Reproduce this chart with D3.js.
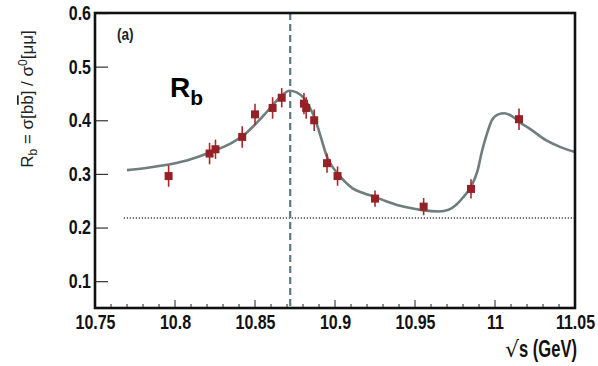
<!DOCTYPE html>
<html>
<head>
<meta charset="utf-8">
<script src="https://cdn.jsdelivr.net/npm/d3@7"></script>
<style>
  body { margin: 0; background: #fff; }
  svg { display: block; }
  .tick text { font-family: "Liberation Sans", Arial, sans-serif; font-weight: bold; }
</style>
</head>
<body>
<svg width="598" height="366"></svg>
<script>
// measured points (sqrt s in GeV, R_b) and their errors
const energies = [10.796, 10.8216, 10.8253, 10.842, 10.850, 10.861, 10.8667, 10.8806, 10.882, 10.887, 10.895, 10.9016, 10.925, 10.9554, 10.985, 11.015];
const rbValues = [0.296, 0.338, 0.346, 0.369, 0.411, 0.423, 0.442, 0.431, 0.423, 0.400, 0.320, 0.296, 0.254, 0.239, 0.272, 0.402];
const rbErrors = [0.02, 0.02, 0.018, 0.02, 0.02, 0.02, 0.018, 0.02, 0.02, 0.02, 0.018, 0.018, 0.015, 0.016, 0.018, 0.02];

// fit curve
const curveX = [10.770, 10.782, 10.795, 10.806, 10.8155, 10.826, 10.836, 10.844, 10.850, 10.856, 10.861, 10.866, 10.8716, 10.876, 10.8806, 10.884, 10.887, 10.891, 10.895, 10.898, 10.9016, 10.906, 10.911, 10.918, 10.925, 10.932, 10.940, 10.948, 10.9554, 10.965, 10.971, 10.9756, 10.980, 10.985, 10.989, 10.992, 10.995, 10.998, 11.002, 11.0058, 11.011, 11.016, 11.0214, 11.0318, 11.041, 11.05];
const curveY = [0.307, 0.311, 0.317, 0.324, 0.333, 0.345, 0.359, 0.375, 0.392, 0.411, 0.428, 0.444, 0.455, 0.452, 0.441, 0.425, 0.407, 0.370, 0.332, 0.315, 0.301, 0.286, 0.273, 0.264, 0.257, 0.249, 0.241, 0.236, 0.232, 0.230, 0.233, 0.242, 0.256, 0.276, 0.305, 0.344, 0.375, 0.400, 0.411, 0.413, 0.407, 0.395, 0.385, 0.363, 0.350, 0.341];

const peakMass = 10.872;      // vertical dashed line
const baseline = 0.218;       // dotted horizontal line
const baselineStart = 10.768;

const xTicks = [10.75, 10.8, 10.85, 10.9, 10.95, 11, 11.05];
const yTicks = [0.1, 0.2, 0.3, 0.4, 0.5, 0.6];

const margin = {top: 13, right: 23, bottom: 58, left: 95};
const width = 598 - margin.left - margin.right;
const height = 366 - margin.top - margin.bottom;

const svg = d3.select("svg");
const g = svg.append("g").attr("transform", `translate(${margin.left},${margin.top})`);

const x = d3.scaleLinear().domain([10.75, 11.05]).range([0, width]);
const y = d3.scaleLinear().domain([0.05, 0.6]).range([height, 0]);

// squeeze text to look like a narrow face
function narrow(sel, k) {
  sel.each(function () {
    const len = this.getComputedTextLength();
    d3.select(this).attr("textLength", len * k).attr("lengthAdjust", "spacingAndGlyphs");
  });
}

// minor x ticks (every 0.01)
const minorX = d3.range(0, 31).map(i => 10.75 + i * 0.01);
g.append("g").selectAll("line").data(minorX).enter().append("line")
  .attr("x1", d => x(d)).attr("x2", d => x(d))
  .attr("y1", height).attr("y2", (d, i) => height - (i % 5 === 0 ? 8 : 4))
  .attr("stroke", "#222").attr("stroke-width", 1);

// x axis labels
const xAxis = d3.axisBottom(x).tickValues(xTicks).tickSize(0).tickPadding(7)
  .tickFormat(d => d3.format("")(+d.toFixed(2)));
g.append("g").attr("transform", `translate(0,${height})`).call(xAxis)
  .call(s => s.select(".domain").remove())
  .selectAll("text").attr("font-size", 20).attr("fill", "#111").call(narrow, 0.8);

// y axis
const yAxis = d3.axisLeft(y).tickValues(yTicks).tickSize(-13).tickPadding(4)
  .tickFormat(d3.format(".1f"));
g.append("g").call(yAxis)
  .call(s => s.select(".domain").remove())
  .call(s => s.selectAll(".tick line").attr("stroke", "#333").attr("stroke-width", 1.2))
  .selectAll("text").attr("font-size", 20).attr("fill", "#111").call(narrow, 0.8);

// dotted baseline
g.append("line")
  .attr("x1", x(baselineStart)).attr("x2", width)
  .attr("y1", y(baseline)).attr("y2", y(baseline))
  .attr("stroke", "#555").attr("stroke-width", 2).attr("stroke-dasharray", "1,2");

// vertical dashed line
g.append("line")
  .attr("x1", x(peakMass)).attr("x2", x(peakMass))
  .attr("y1", 0).attr("y2", height)
  .attr("stroke", "#5c7a82").attr("stroke-width", 2.2).attr("stroke-dasharray", "7,4");

// fit curve
const curve = d3.line().x(d => x(d[0])).y(d => y(d[1])).curve(d3.curveMonotoneX);
g.append("path")
  .datum(curveX.map((v, i) => [v, curveY[i]]))
  .attr("d", curve)
  .attr("fill", "none").attr("stroke", "#6f7d7d").attr("stroke-width", 2.6);

// data points with error bars
const pts = energies.map((e, i) => ({e, r: rbValues[i], err: rbErrors[i]}));
const pg = g.append("g").selectAll("g").data(pts).enter().append("g");
pg.append("line")
  .attr("x1", d => x(d.e)).attr("x2", d => x(d.e))
  .attr("y1", d => y(d.r + d.err)).attr("y2", d => y(d.r - d.err))
  .attr("stroke", "#a8282c").attr("stroke-width", 1.6);
pg.append("rect")
  .attr("x", d => x(d.e) - 4).attr("y", d => y(d.r) - 4)
  .attr("width", 8).attr("height", 8)
  .attr("fill", "#952026");

// frame
g.append("rect").attr("x", 0).attr("y", 0).attr("width", width).attr("height", height)
  .attr("fill", "none").attr("stroke", "#111").attr("stroke-width", 2.6);

// panel label
g.append("text").attr("x", 22).attr("y", 27)
  .attr("font-family", "Liberation Sans, Arial, sans-serif").attr("font-weight", "bold")
  .attr("font-size", 16).attr("fill", "#222").text("(a)").call(narrow, 0.85);

// big R_b
const rb = svg.append("text").attr("x", 170).attr("y", 97)
  .attr("font-family", "Liberation Sans, Arial, sans-serif").attr("font-weight", "bold")
  .attr("font-size", 28).attr("fill", "#000");
rb.append("tspan").text("R");
rb.append("tspan").attr("font-size", 21).attr("dy", 8).text("b");

// y axis title
const yt = svg.append("text")
  .attr("transform", "translate(33,99) rotate(-90)")
  .attr("text-anchor", "middle")
  .attr("font-family", "Liberation Sans, Arial, sans-serif")
  .attr("font-size", 17).attr("fill", "#222");
yt.append("tspan").text("R");
yt.append("tspan").attr("font-size", 12).attr("dy", 4).text("b");
yt.append("tspan").attr("dy", -4).text(" = σ[b");
yt.append("tspan").style("text-decoration", "overline").text("b");
yt.append("tspan").text("] / σ");
yt.append("tspan").attr("font-size", 12).attr("dy", -6).text("0");
yt.append("tspan").attr("dy", 6).text("[μμ]");

// x axis title: radical sign + "s (GeV)"
svg.append("text").attr("x", 505).attr("y", 357)
  .attr("font-family", "DejaVu Sans, sans-serif")
  .attr("font-size", 22).attr("fill", "#111").text("√");
svg.append("text").attr("x", 519).attr("y", 357)
  .attr("font-family", "Liberation Sans, Arial, sans-serif").attr("font-weight", "bold")
  .attr("font-size", 23).attr("fill", "#111").text("s (GeV)").call(narrow, 0.72);
</script>
</body>
</html>
